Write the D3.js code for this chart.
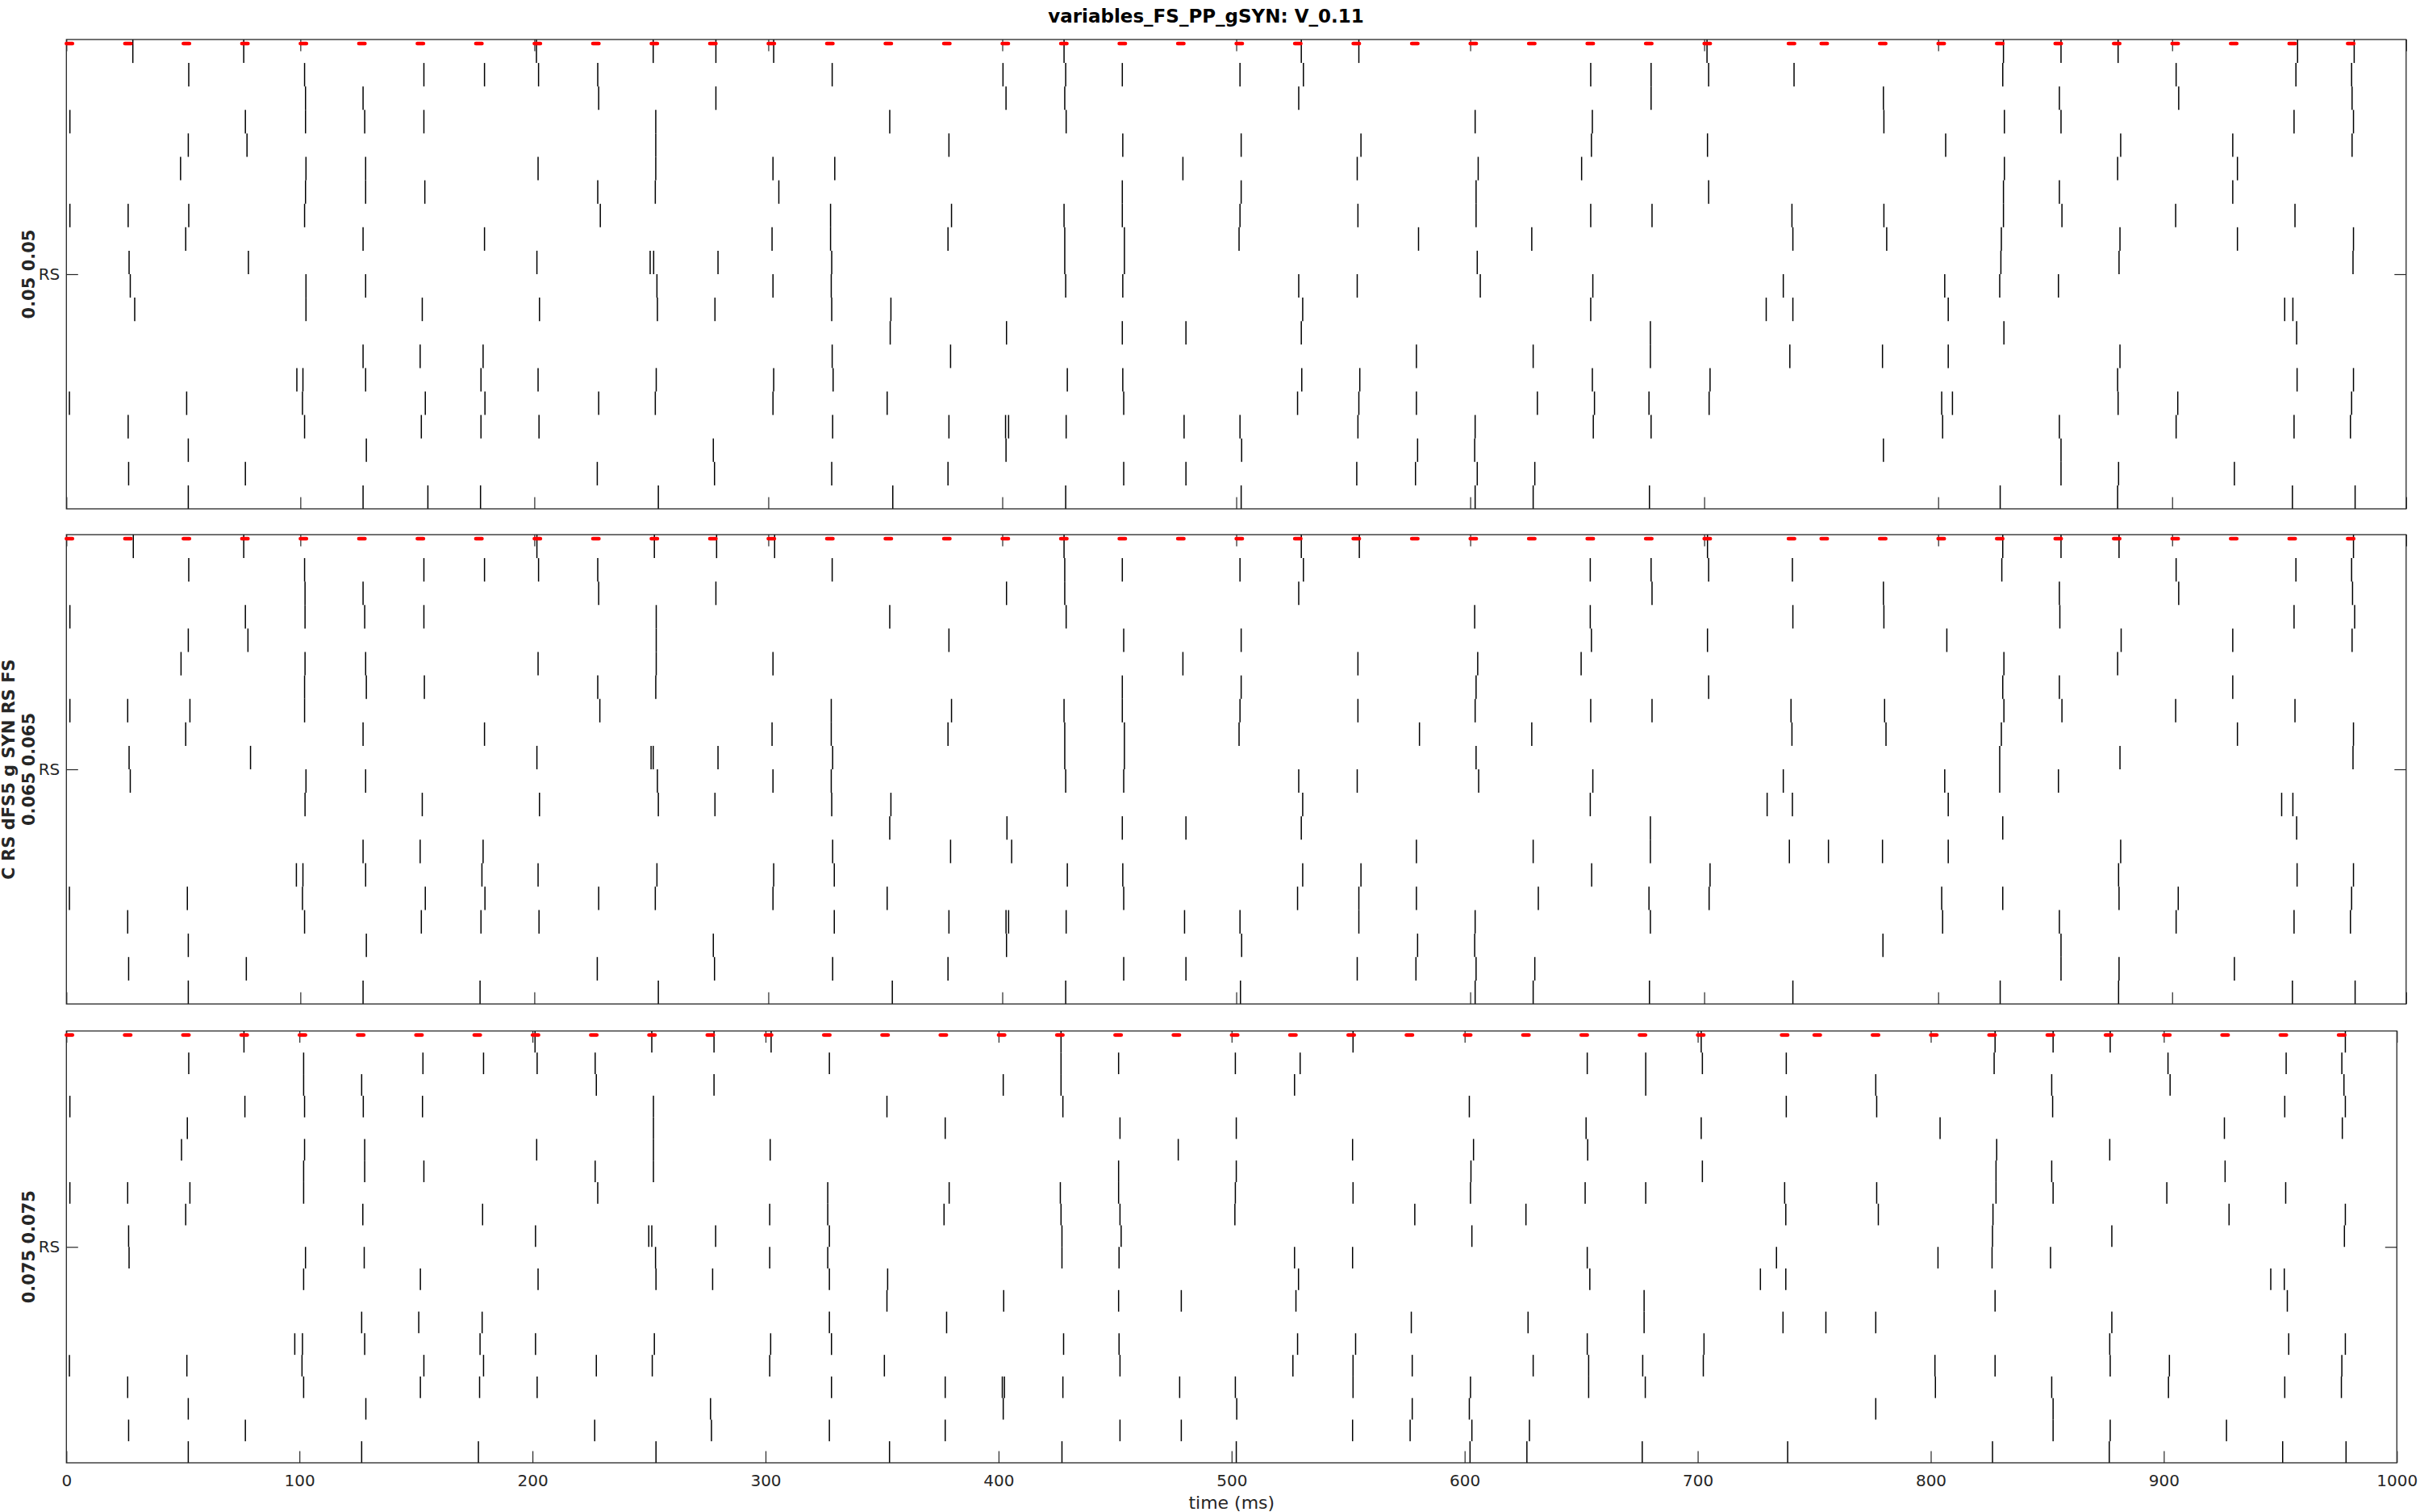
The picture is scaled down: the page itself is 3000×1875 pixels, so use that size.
<!DOCTYPE html>
<html><head><meta charset="utf-8">
<script src="https://cdn.jsdelivr.net/npm/d3@7"></script>
<style>body{margin:0;background:#fff}svg{display:block}</style>
</head><body>
<svg id="chart" width="3000" height="1875"></svg>
<script>
// ---------- data ----------
const titleText = "variables_FS_PP_gSYN: V_0.11";
const xLabelText = "time (ms)";
const xTickValues = [0,100,200,300,400,500,600,700,800,900,1000];
const yTickLabels = ["RS"];
const panelLabels = [["0.05 0.05"], ["C RS dFS5 g SYN RS FS", "0.065 0.065"], ["0.075 0.075"]];
const pulseTimes = [0,25,50,75,100,125,150,175,200,225,250,275,300,325,350,375,400,425,450,475,500,525,550,575,600,625,650,675,700,736,750,775,800,825,850,875,900,925,950,975];

const spikesP1 = [
 [28.4,75.8,200.9,250.8,277.6,302.3,426.4,527.8,552.4,701.2,827.9,852.5,876.9,953.6,977.8],
 [52.3,101.8,152.8,178.7,201.8,227.1,327.3,400.3,427.1,451.3,501.6,528.7,651.5,677.3,701.9,738.4,827.6,901.7,952.9,976.7],
 [102.2,126.8,227.5,277.6,401.6,426.7,526.7,677.3,776.6,851.8,902.8,976.9],
 [1.5,76.5,102.2,127.5,152.8,251.9,351.9,427.3,602.1,652.2,776.8,828.3,852.5,952.1,977.5],
 [52.1,77.2,251.9,377.2,451.5,502.1,553.3,651.8,701.4,803.2,878.0,925.9,976.9],
 [48.8,102.4,127.9,201.6,251.9,302.0,328.4,477.2,551.7,603.4,647.6,828.3,876.7,927.9],
 [102.2,127.9,153.2,227.1,251.7,304.5,451.3,502.1,602.5,701.9,827.9,851.8,925.9],
 [1.5,26.4,52.3,101.8,228.2,326.6,378.3,426.4,451.3,501.6,552.0,602.5,651.5,677.7,737.5,776.8,827.9,852.9,901.5,952.5],
 [51.0,126.8,178.7,301.6,326.6,376.8,426.7,452.2,501.2,577.9,626.3,737.9,778.0,827.0,877.7,927.9,977.5],
 [26.8,77.8,201.1,249.5,251.0,278.5,327.1,426.7,452.2,603.0,826.8,877.3,977.3],
 [27.3,102.4,127.9,252.4,302.0,326.9,427.1,451.5,526.7,551.7,604.3,652.4,733.8,802.8,826.3,851.4],
 [29.2,102.4,152.1,202.2,252.6,277.2,327.1,352.4,528.4,651.5,726.5,737.9,804.3,948.1,951.6],
 [352.1,401.8,451.3,478.5,527.8,677.0,828.1,953.2],
 [126.8,151.2,178.1,327.3,377.9,577.0,626.9,677.0,736.6,776.2,804.3,877.7],
 [98.5,101.1,127.9,177.2,201.6,252.1,302.3,327.7,427.8,451.5,528.0,552.8,652.2,702.5,876.7,953.4,977.5],
 [1.3,51.4,100.9,153.4,178.9,227.5,251.7,302.0,350.8,451.9,526.2,552.4,577.0,628.7,653.1,676.4,702.1,801.5,806.1,876.9,902.4,976.7],
 [26.4,101.8,151.7,177.2,202.0,327.5,377.2,401.4,402.7,427.3,477.7,501.6,552.0,602.1,652.6,677.3,801.9,851.8,901.7,952.1,976.2],
 [52.1,128.2,276.5,401.6,502.3,577.5,601.9,776.6,852.5],
 [26.6,76.5,226.9,277.0,327.1,376.8,451.9,478.5,551.5,576.6,603.0,627.6,852.5,877.1,926.6],
 [52.1,126.8,154.5,177.0,253.0,353.2,427.1,502.1,602.1,626.9,676.6,826.5,876.7,951.4,978.2]
];

const spikesP2 = [
 [28.6,75.8,201.1,251.3,277.9,302.7,426.4,527.8,552.6,701.4,827.6,852.5,877.3,977.5],
 [52.3,101.8,152.8,178.7,201.8,227.1,327.3,426.7,451.3,501.6,528.7,651.3,677.3,701.9,737.7,827.2,901.7,952.9,976.7],
 [102.0,126.8,227.5,277.6,401.8,426.7,526.7,677.7,776.6,851.8,902.8,977.1],
 [1.5,76.5,102.0,127.5,152.8,252.1,351.9,427.3,601.9,651.3,737.9,776.8,852.0,952.1,978.0],
 [52.1,77.6,252.1,377.2,451.9,502.1,651.8,701.4,803.7,878.2,925.9,976.9],
 [49.0,102.0,127.9,201.6,252.1,302.0,477.2,552.0,603.2,647.4,828.1,876.7],
 [101.8,128.2,153.0,227.1,251.9,451.3,502.1,602.5,701.9,827.6,851.8,925.9],
 [1.5,26.2,52.8,101.8,228.0,326.9,378.3,426.4,451.3,501.6,552.0,602.1,651.5,677.7,737.1,777.1,828.1,852.9,901.5,952.5],
 [51.0,126.8,178.7,301.6,326.9,376.8,426.7,452.2,501.2,578.3,626.3,737.5,777.7,827.0,927.9,977.5],
 [26.8,78.7,201.1,249.9,250.8,278.5,327.5,426.7,452.2,602.5,826.3,877.7,977.3],
 [27.3,102.4,127.9,252.6,302.0,326.9,427.1,451.9,526.7,551.7,603.6,652.4,733.8,802.8,826.3,851.4],
 [102.0,152.1,202.2,253.0,277.2,327.1,352.4,528.4,651.3,726.9,737.7,804.3,946.8,951.6],
 [351.9,402.0,451.3,478.5,527.8,677.0,827.6,953.2],
 [126.8,151.2,178.1,327.5,377.9,404.0,577.0,626.9,677.0,736.4,753.1,776.2,804.3,878.0],
 [98.3,101.1,127.9,177.6,201.6,252.4,302.3,328.2,427.8,451.5,528.4,553.3,651.9,702.5,877.1,953.4,977.5],
 [1.3,51.7,100.9,153.4,178.9,227.5,251.7,302.0,350.8,451.9,526.2,552.4,577.0,629.1,676.4,702.1,801.5,827.6,877.3,902.6,976.7],
 [26.2,101.8,151.7,177.2,202.0,328.2,377.2,401.6,402.7,427.3,477.9,501.6,552.4,602.1,677.0,801.9,851.8,901.7,952.1,976.2],
 [52.1,128.2,276.5,401.8,502.3,577.5,601.9,776.4,852.5],
 [26.6,76.9,226.9,277.0,327.5,376.8,451.9,478.5,551.7,576.8,602.5,627.6,852.5,877.3,926.6],
 [52.1,126.8,176.8,253.0,353.0,427.1,501.8,602.1,626.9,676.6,737.9,826.5,877.1,951.4,978.2]
];

const spikesP3 = [
 [76.2,201.1,251.2,277.9,302.4,426.8,552.1,701.5,827.6,852.5,877.0,977.9],
 [52.5,101.8,153.0,179.0,202.0,226.9,327.4,426.8,451.5,501.6,529.4,652.6,677.7,702.0,738.0,827.2,901.8,952.5,976.4],
 [101.8,126.7,227.4,277.9,402.0,426.8,527.0,677.7,776.4,851.9,902.7,977.3],
 [1.5,76.6,102.2,127.4,152.8,251.9,352.1,427.6,602.0,738.0,776.8,852.3,951.9,977.9],
 [51.9,251.9,377.1,452.1,502.0,652.1,701.5,804.0,926.0,976.6],
 [49.4,102.2,128.0,201.8,251.9,302.0,477.1,551.9,603.8,652.8,828.3,876.8],
 [101.8,128.0,153.4,226.9,251.9,451.5,502.0,602.7,702.0,828.0,851.9,926.3],
 [1.5,26.3,53.0,101.8,228.0,326.7,378.8,426.5,451.5,501.6,552.1,602.5,651.7,677.7,737.3,776.8,828.0,852.5,901.3,952.3],
 [51.2,127.2,178.6,301.8,326.7,376.6,426.8,452.1,501.4,578.6,626.3,737.8,777.5,826.7,928.0,977.9],
 [26.7,201.3,249.9,251.2,278.6,327.4,427.2,452.6,603.1,826.5,877.7,977.5],
 [26.9,102.6,127.8,252.8,301.8,326.7,427.2,451.7,527.0,551.9,652.6,733.8,803.1,826.3,851.4],
 [101.8,151.9,202.4,253.0,277.3,327.4,352.4,528.7,653.7,726.9,737.8,945.9,951.7],
 [352.1,402.2,451.5,478.4,527.6,677.0,827.6,953.0],
 [126.7,151.2,178.4,327.4,377.7,577.1,627.2,677.0,736.6,755.0,776.4,877.7],
 [98.0,101.3,128.0,177.5,201.3,252.3,302.2,328.3,427.9,451.7,528.3,553.2,652.6,702.7,876.8,953.6,977.9],
 [1.3,51.7,101.1,153.4,179.0,227.4,251.4,301.8,351.0,452.1,526.3,552.1,577.5,629.4,653.2,676.4,702.4,801.8,827.6,877.0,902.4,976.4],
 [26.3,101.8,151.9,177.3,202.0,328.3,377.1,401.6,402.5,427.6,477.7,501.6,552.1,602.5,653.2,677.5,802.0,851.9,902.0,951.9,976.2],
 [52.3,128.5,276.4,402.0,502.2,577.5,602.0,776.4,852.5],
 [26.7,76.8,226.7,276.8,327.4,377.1,452.1,478.4,551.9,576.6,603.1,627.8,852.5,877.0,926.9],
 [52.3,126.7,176.8,253.0,353.2,427.2,502.0,602.3,626.7,676.2,738.6,826.5,876.6,951.0,978.2]
];

// ---------- layout ----------
const AX = "#262626";
const FONT = "DejaVu Sans";
const nRows = 20;
const pulseDur = 2.6;
const panels = [
  {spikes: spikesP1, x0: 82.3, x1: 2982.8, y0: 49,   y1: 631,  labels: panelLabels[0], showX: false},
  {spikes: spikesP2, x0: 82.3, x1: 2982.8, y0: 663,  y1: 1245, labels: panelLabels[1], showX: false},
  {spikes: spikesP3, x0: 82.3, x1: 2971.3, y0: 1278.5, y1: 1814, labels: panelLabels[2], showX: true}
];

const svg = d3.select("#chart");
svg.append("rect").attr("width",3000).attr("height",1875).attr("fill","#fff");

svg.append("text")
  .attr("x", 1495).attr("y", 28)
  .attr("text-anchor","middle")
  .attr("font-family", FONT).attr("font-weight","bold").attr("font-size", 23)
  .attr("fill","#000")
  .text(titleText);

panels.forEach((p) => {
  const x = d3.scaleLinear().domain([0,1000]).range([p.x0, p.x1]);
  const y = d3.scaleLinear().domain([0,nRows]).range([p.y0, p.y1]);
  const g = svg.append("g");

  // spikes
  const segs = [];
  p.spikes.forEach((row, i) => row.forEach(t => segs.push({t, i})));
  g.append("g").selectAll("line").data(segs).join("line")
    .attr("x1", d => x(d.t)).attr("x2", d => x(d.t))
    .attr("y1", d => y(d.i)).attr("y2", d => y(d.i + 1))
    .attr("stroke", "#000").attr("stroke-width", 1.5);

  // axes (ticks pointing inward on all four sides)
  const tick = 14.5;
  const gb = g.append("g").attr("transform", `translate(0,${p.y1})`)
    .call(d3.axisBottom(x).tickValues(xTickValues).tickSize(-tick).tickSizeOuter(0).tickPadding(14.5)
      .tickFormat(p.showX ? d3.format("d") : () => ""));
  const gt = g.append("g").attr("transform", `translate(0,${p.y0})`)
    .call(d3.axisTop(x).tickValues(xTickValues).tickSize(-tick).tickSizeOuter(0).tickFormat(() => ""));
  const gl = g.append("g").attr("transform", `translate(${p.x0},0)`)
    .call(d3.axisLeft(y).tickValues([nRows/2]).tickSize(-tick).tickSizeOuter(0).tickPadding(8)
      .tickFormat((d, k) => yTickLabels[k]));
  const gr = g.append("g").attr("transform", `translate(${p.x1},0)`)
    .call(d3.axisRight(y).tickValues([nRows/2]).tickSize(-tick).tickSizeOuter(0).tickFormat(() => ""));
  [gb, gt, gl, gr].forEach(a => {
    a.select(".domain").remove();
    a.selectAll(".tick line").attr("stroke", AX).attr("stroke-width", 1.2);
    a.selectAll("text").attr("font-family", FONT).attr("font-size", 20).attr("fill", AX);
  });

  // box
  g.append("rect").attr("x", p.x0).attr("y", p.y0)
    .attr("width", p.x1 - p.x0).attr("height", p.y1 - p.y0)
    .attr("fill","none").attr("stroke", AX).attr("stroke-width", 1.3);

  // input pulses
  g.append("g").selectAll("line").data(pulseTimes).join("line")
    .attr("x1", d => x(d)).attr("x2", d => x(d + pulseDur))
    .attr("y1", p.y0 + 5).attr("y2", p.y0 + 5)
    .attr("stroke", "#ff0000").attr("stroke-width", 4.5).attr("stroke-linecap","round");

  // y label (rotated, bold)
  const cy = (p.y0 + p.y1) / 2;
  const n = p.labels.length;
  p.labels.forEach((txt, k) => {
    const lx = 35.5 - (n - 1 - k) * 25;
    svg.append("text")
      .attr("transform", `translate(${lx},${cy}) rotate(-90)`)
      .attr("text-anchor","middle").attr("dy","0.35em")
      .attr("font-family", FONT).attr("font-weight","bold").attr("font-size", 21)
      .attr("fill", AX)
      .text(txt);
  });

  if (p.showX) {
    svg.append("text")
      .attr("x", (p.x0 + p.x1) / 2).attr("y", 1871)
      .attr("text-anchor","middle")
      .attr("font-family", FONT).attr("font-size", 22)
      .attr("fill", AX)
      .text(xLabelText);
  }
});
</script>
</body></html>
